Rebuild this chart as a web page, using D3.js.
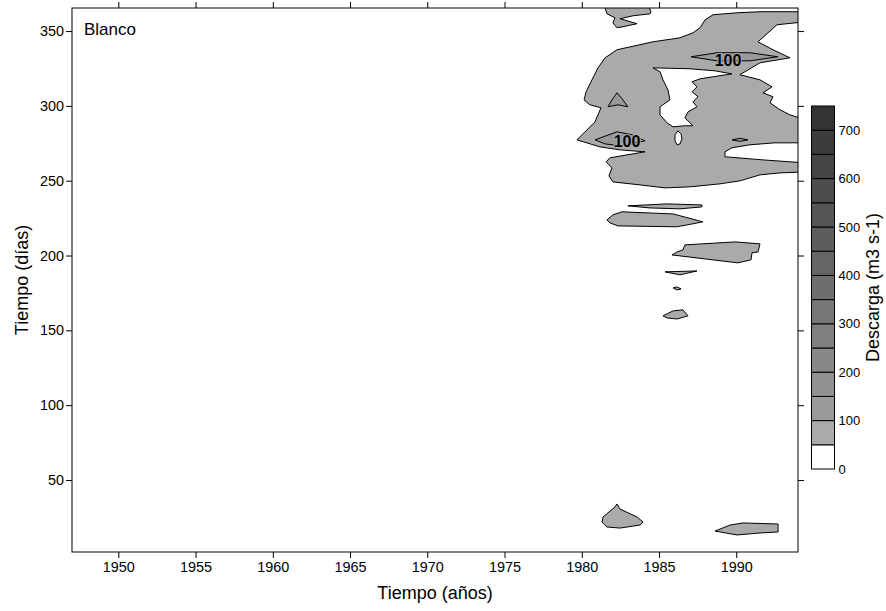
<!DOCTYPE html>
<html>
<head>
<meta charset="utf-8">
<script src="https://cdn.jsdelivr.net/npm/d3@7"></script>
<style>
  body { margin: 0; background: #fff; }
  text { font-family: "Liberation Sans", Arial, Helvetica, sans-serif; }
</style>
</head>
<body>
<svg id="chart" width="886" height="611"></svg>
<script>
// ---- data: contour rings as [year, day] ----
var yearTicks = [1950, 1955, 1960, 1965, 1970, 1975, 1980, 1985, 1990];
var dayTicks = [50, 100, 150, 200, 250, 300, 350];
var levels = [0, 50, 100, 150, 200, 250, 300, 350, 400, 450, 500, 550, 600, 650, 700, 750];
var levelLabels = [0, 100, 200, 300, 400, 500, 600, 700];
var bandColors = ["#ffffff", "#aaaaaa", "#9a9a9a", "#919191", "#888888", "#7f7f7f", "#777777",
  "#6e6e6e", "#666666", "#5d5d5d", "#555555", "#4c4c4c", "#444444", "#3b3b3b", "#333333"];

// 50 m3/s region, big one with two holes
var mainOuter = [[1994.5,362.9],[1991.54,362.9],[1990.05,362.2],[1988.50,360.9],[1987.98,357.5],
  [1987.66,352.2],[1987.20,348.8],[1986.36,345.5],[1984.61,342.8],[1982.28,337.5],[1981.51,332.1],
  [1981.05,325.4],[1980.66,317.4],[1980.28,309.4],[1980.15,304.0],[1980.53,300.7],[1981.25,298.7],
  [1981.05,294.0],[1980.86,289.3],[1980.21,282.7],[1979.69,277.3],[1981.18,272.6],[1982.48,270.6],
  [1984.09,269.3],[1981.83,265.3],[1981.57,262.6],[1981.96,258.6],[1981.76,253.2],[1982.02,249.2],
  [1983.77,247.2],[1985.39,245.2],[1987.01,245.9],[1988.95,247.9],[1990.24,249.9],[1991.54,253.9],
  [1992.83,255.2],[1994.5,255.9],[1994.5,261.9],[1991.73,263.9],[1989.27,266.0],[1989.27,269.3],
  [1989.73,272.0],[1990.89,274.0],[1992.51,275.3],[1994.5,275.3],[1994.5,290.7],[1993.48,294.0],
  [1992.83,297.4],[1992.19,302.0],[1992.38,306.1],[1991.73,308.7],[1992.32,312.7],[1991.54,317.4],
  [1990.24,320.8],[1991.54,328.8],[1993.48,332.1],[1992.38,337.5],[1991.41,342.8],[1992.64,354.2],
  [1994.5,356.2]];
var holeCentral = [[1984.61,325.4],[1985.07,322.8],[1985.26,317.4],[1985.58,310.7],[1985.71,304.0],
  [1985.07,299.4],[1985.07,294.0],[1985.52,288.7],[1985.91,286.0],[1986.68,286.7],[1987.20,286.7],
  [1986.68,292.0],[1986.88,296.0],[1987.46,299.4],[1987.20,302.7],[1987.53,306.1],[1987.14,309.4],
  [1987.46,312.7],[1987.14,316.1],[1987.66,318.1],[1989.73,321.4],[1988.63,323.4],[1987.01,324.8]];
var holeSmall = [[1986.23,283.3],[1986.43,281.3],[1986.49,278.0],[1986.36,274.6],[1986.17,274.0],
  [1986.04,276.6],[1986.04,280.7]];

// other 50 m3/s patches
var patchTop = [[1981.44,368],[1981.63,361.5],[1982.15,358.9],[1982.02,355.5],[1982.28,352.2],
  [1982.67,352.9],[1983.58,354.9],[1982.48,358.2],[1983.32,360.2],[1984.42,361.5],[1984.48,362.9],[1984.29,368]];
var patchThin = [[1982.99,233.2],[1985.52,234.5],[1987.78,233.8],[1987.78,232.5],[1986.36,231.2],[1984.42,231.8]];
var patchLong = [[1981.63,223.8],[1982.02,227.2],[1982.61,229.2],[1985.91,227.8],[1987.85,222.5],
  [1986.17,219.2],[1982.35,219.8],[1981.83,221.8]];
var patchBlock = [[1985.84,200.4],[1986.17,202.4],[1986.55,203.8],[1986.68,207.1],[1989.92,209.1],
  [1991.54,207.8],[1991.41,202.4],[1991.02,201.8],[1990.96,197.1],[1990.11,195.1]];
var patchSliver = [[1985.39,189.1],[1987.46,189.7],[1986.36,187.1]];
var patchDot = [[1985.91,178.4],[1986.17,179.0],[1986.43,177.7],[1986.17,177.0]];
var patchEgg = [[1985.26,159.7],[1985.91,163.0],[1986.55,163.7],[1986.88,159.7],[1986.17,157.6],[1985.52,158.3]];
var patchDrop = [[1981.31,21.9],[1981.38,25.3],[1982.15,32.0],[1982.28,34.0],[1982.48,30.6],[1983.58,25.3],
  [1983.97,21.9],[1983.77,19.9],[1982.48,17.9],[1981.63,18.6]];
var patchArrow = [[1988.63,15.9],[1989.60,19.9],[1990.44,21.3],[1992.71,20.6],[1992.71,15.3],
  [1991.54,14.6],[1990.05,13.3]];

// 100 m3/s closed contours
var lensUpper = [[1987.07,332.8],[1988.76,335.5],[1990.89,335.5],[1992.71,332.8],[1990.89,330.1],[1988.76,330.1]];
var lensLower = [[1980.86,277.3],[1982.28,282.7],[1983.25,280.7],[1984.09,276.6],[1982.48,273.3],[1981.51,274.6]];
var triangle100 = [[1981.70,299.4],[1981.96,304.0],[1982.28,308.7],[1982.61,304.7],[1982.99,299.4],[1982.35,300.7]];
var dot100 = [[1989.73,277.3],[1990.24,278.3],[1990.76,277.3],[1990.24,276.3]];
var labels100 = [[1989.47, 330.3], [1982.93, 276.2]];

// ---- drawing ----
var svg = d3.select("#chart");
var margin = { left: 72, right: 798, top: 8, bottom: 552 };

var x = d3.scaleLinear().domain([1947, 1994]).range([margin.left, margin.right]);
var y = d3.scaleLinear().domain([1.9, 365.4]).range([margin.bottom, margin.top]);

svg.append("rect").attr("width", 886).attr("height", 611).attr("fill", "#fff");

svg.append("clipPath").attr("id", "panel")
  .append("rect")
  .attr("x", margin.left).attr("y", margin.top)
  .attr("width", margin.right - margin.left).attr("height", margin.bottom - margin.top);

var ring = d3.line().x(d => x(d[0])).y(d => y(d[1])).curve(d3.curveLinearClosed);

var g = svg.append("g").attr("clip-path", "url(#panel)");

g.append("path")
  .attr("d", ring(mainOuter) + ring(holeCentral) + ring(holeSmall))
  .attr("fill", bandColors[1])
  .attr("fill-rule", "evenodd")
  .attr("stroke", "#000").attr("stroke-width", 1);

var patches = [patchTop, patchThin, patchLong, patchBlock, patchSliver, patchDot, patchEgg, patchDrop, patchArrow];
g.selectAll("path.p50")
  .data(patches)
  .enter().append("path")
    .attr("class", "p50")
    .attr("d", ring)
    .attr("fill", bandColors[1])
    .attr("stroke", "#000").attr("stroke-width", 1);

g.selectAll("path.p100")
  .data([lensUpper, lensLower, triangle100, dot100])
  .enter().append("path")
    .attr("class", "p100")
    .attr("d", ring)
    .attr("fill", bandColors[2])
    .attr("stroke", "#000").attr("stroke-width", 1);

g.selectAll("text.lab")
  .data(labels100)
  .enter().append("text")
    .attr("class", "lab")
    .attr("x", d => x(d[0]))
    .attr("y", d => y(d[1]))
    .attr("dy", "0.36em")
    .attr("text-anchor", "middle")
    .style("font-size", "16px")
    .style("font-weight", "bold")
    .style("paint-order", "stroke")
    .attr("stroke", bandColors[1]).attr("stroke-width", 2)
    .attr("fill", "#000")
    .text("100");

svg.append("text")
  .attr("x", 84).attr("y", 35)
  .style("font-size", "17px")
  .text("Blanco");

// panel border
svg.append("rect")
  .attr("x", margin.left).attr("y", margin.top)
  .attr("width", margin.right - margin.left).attr("height", margin.bottom - margin.top)
  .attr("fill", "none").attr("stroke", "#000").attr("stroke-width", 1);

// axes (lattice style: ticks on all sides, labels left and bottom)
var bottomAxis = svg.append("g")
  .attr("transform", "translate(0," + margin.bottom + ")")
  .call(d3.axisBottom(x).tickValues(yearTicks).tickFormat(d3.format("d")).tickSizeInner(6).tickSizeOuter(0).tickPadding(4));
var topAxis = svg.append("g")
  .attr("transform", "translate(0," + margin.top + ")")
  .call(d3.axisTop(x).tickValues(yearTicks).tickFormat("").tickSizeInner(6).tickSizeOuter(0));
var leftAxis = svg.append("g")
  .attr("transform", "translate(" + margin.left + ",0)")
  .call(d3.axisLeft(y).tickValues(dayTicks).tickSizeInner(6).tickSizeOuter(0).tickPadding(2));
var rightAxis = svg.append("g")
  .attr("transform", "translate(" + margin.right + ",0)")
  .call(d3.axisRight(y).tickValues(dayTicks).tickFormat("").tickSizeInner(6).tickSizeOuter(0));

[bottomAxis, topAxis, leftAxis, rightAxis].forEach(function(a) {
  a.select(".domain").remove();
  a.selectAll("line").attr("stroke", "#000");
  a.selectAll("text").attr("fill", "#000").style("font-size", "14.4px")
    .style("font-family", "'Liberation Sans', Arial, sans-serif");
});

svg.append("text")
  .attr("x", (margin.left + margin.right) / 2).attr("y", 599)
  .attr("text-anchor", "middle")
  .style("font-size", "18px")
  .text("Tiempo (años)");

svg.append("text")
  .attr("transform", "translate(28," + (margin.top + margin.bottom) / 2 + ") rotate(-90)")
  .attr("text-anchor", "middle")
  .style("font-size", "18px")
  .text("Tiempo (días)");

// colour key
var key = { x: 811.5, w: 23, top: 106, bottom: 469 };
var ky = d3.scaleLinear().domain([0, 750]).range([key.bottom, key.top]);

svg.append("g").selectAll("rect")
  .data(d3.pairs(levels))
  .enter().append("rect")
    .attr("x", key.x)
    .attr("y", d => ky(d[1]))
    .attr("width", key.w)
    .attr("height", d => ky(d[0]) - ky(d[1]))
    .attr("fill", (d, i) => bandColors[i])
    .attr("stroke", "#000").attr("stroke-width", 1);

svg.append("g").selectAll("text")
  .data(levelLabels)
  .enter().append("text")
    .attr("x", key.x + key.w + 4)
    .attr("y", d => ky(d))
    .attr("dy", "0.35em")
    .style("font-size", "13px")
    .text(d => d);

svg.append("text")
  .attr("transform", "translate(879," + (key.top + key.bottom) / 2 + ") rotate(-90)")
  .attr("text-anchor", "middle")
  .style("font-size", "18px")
  .text("Descarga (m3 s-1)");
</script>
</body>
</html>
